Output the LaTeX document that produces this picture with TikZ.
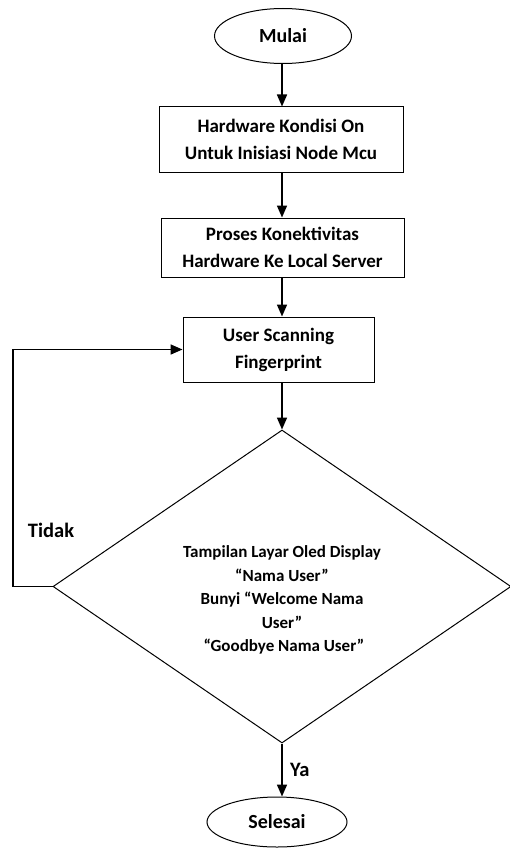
\documentclass[tikz,border=0pt]{standalone}
\usepackage{fontspec}
\setmainfont{Carlito}
\usetikzlibrary{shapes.geometric,arrows.meta}
\begin{document}
\begin{tikzpicture}[x=1pt, y=-1pt, font=\bfseries\fontsize{19}{27}\selectfont,
    terminal/.style={draw, line width=1pt, ellipse, inner sep=0pt, font=\bfseries\fontsize{20}{22}\selectfont},
    prosesbox/.style={draw, line width=1pt, rectangle, align=center, inner sep=0pt},
    arr/.style={line width=1.7pt, -{Triangle[length=12pt, width=10pt]}}]
    \useasboundingbox (0, 0) rectangle (510, 848);
    \node[terminal, minimum width=137pt, minimum height=55pt] (mulai) at (283, 36) {Mulai};
    \node[prosesbox, minimum width=244pt, minimum height=65pt] (hw) at (281, 139.5)
      {Hardware Kondisi On\\Untuk Inisiasi Node Mcu};
    \node[prosesbox, minimum width=243pt, minimum height=59pt] (konek) at (282.5, 247.5)
      {Proses Konektivitas\\Hardware Ke Local Server};
    \node[prosesbox, minimum width=191pt, minimum height=65pt] (scan) at (278.5, 349.5)
      {User Scanning\\Fingerprint};
    \node[draw, line width=1pt, diamond, minimum width=458pt, minimum height=313pt,
      inner sep=0pt] (cek) at (282, 586.5) {};
    \node[align=center, font=\bfseries\fontsize{17}{23.5}\selectfont] (cektxt) at (282, 600)
      {Tampilan Layar Oled Display\\``Nama User''\\Bunyi ``Welcome Nama\\User''\\
       \ ``Goodbye Nama User''};
    \node[terminal, minimum width=140pt, minimum height=50pt] (selesai) at (277, 822) {Selesai};
    % panah alur utama
    \draw[arr] (mulai.south -| cek.north) -- (cek.north |- hw.north);
    \draw[arr] (hw.south -| cek.north) -- (cek.north |- konek.north);
    \draw[arr] (konek.south -| cek.north) -- (cek.north |- scan.north);
    \draw[arr] (scan.south -| cek.north) -- (cek.north);
    \draw[arr] (cek.south) -- node[right, xshift=4pt, font=\bfseries\fontsize{20.5}{22}\selectfont] (ya) {Ya}
      (cek.south |- selesai.north);
    % kembali jika tidak
    \draw[arr] (cek.west) -- (13, 0 |- cek.west) |- (scan.west);
    \node[font=\bfseries\fontsize{20.5}{22}\selectfont] (tidak) at (51, 530) {Tidak};
\end{tikzpicture}
\end{document}
